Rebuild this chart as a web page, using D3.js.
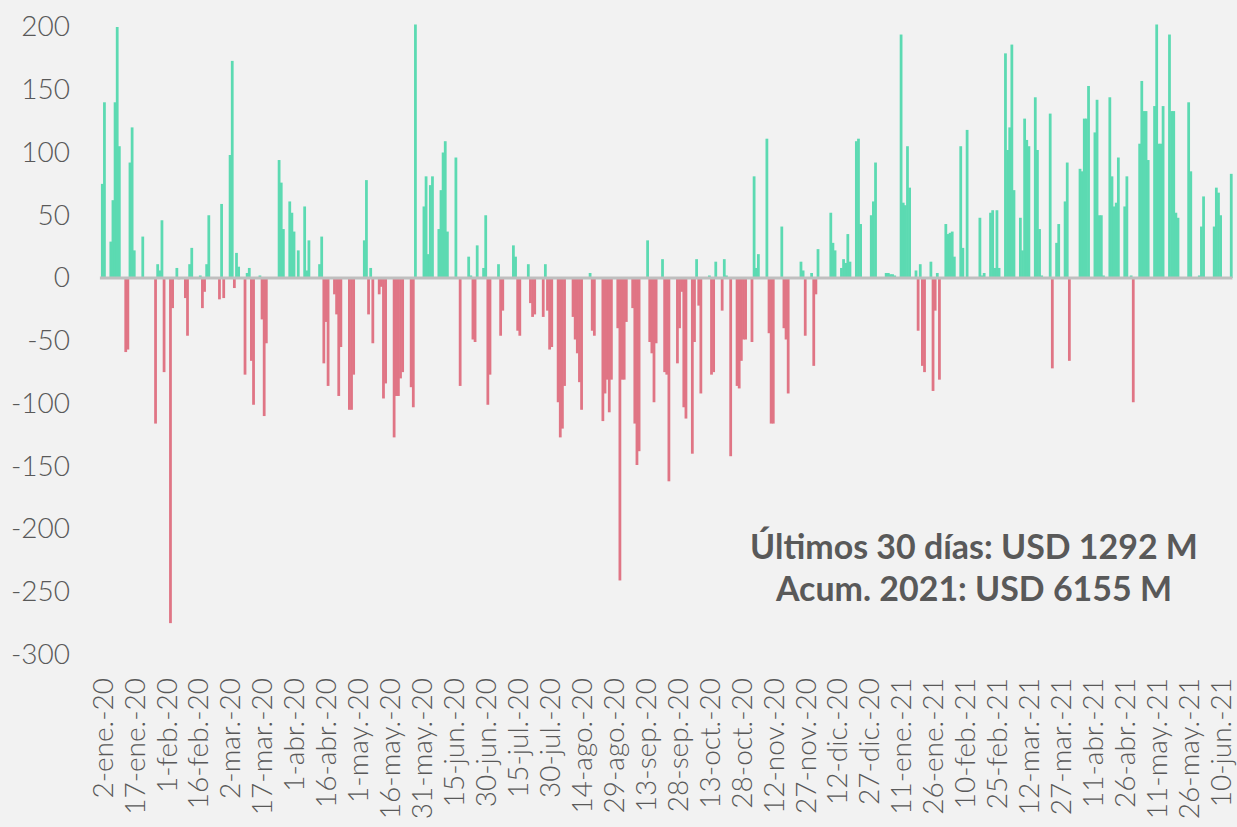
<!DOCTYPE html>
<html><head><meta charset="utf-8">
<script src="https://cdn.jsdelivr.net/npm/d3@7"></script>
<style>html,body{margin:0;padding:0;background:#f2f2f2;} svg{display:block}</style>
</head><body><svg id="chart" width="1237" height="827"></svg>
<script>
// ---------- data ----------
const startDate = "2020-01-02"; // first business day; values follow Mon-Fri calendar
const values2020 = [
  75, 140,
  29, 62, 140, 200, 105,
  -59, -57, 92, 120, 22,
  0, 33, 0, 0, 0,
  -116, 11, 6, 46, -75,
  -275, -24, 0, 8, -1,
  -16, -46, 11, 24, 0,
  2, -24, -11, 11, 50,
  0, 0, -17, 59, -16,
  98, 173, -8, 20, 9,
  -77, 4, 8, -66, -101,
  2, -33, -110, -52, 0,
  0, 0, 94, 76, 39,
  61, 52, 37, 0, 22,
  57, 6, 30, 0, 0,
  11, 33, -68, -35, -86,
  -13, -29, -94, -55, 0,
  -105, -105, -77, 0, 0,
  30, 78, -29, 8, -52,
  -13, -7, -96, -84, 0,
  -127, -94, -94, -80, -75,
  0, -87, -103, 202, 0,
  57, 81, 19, 74, 81,
  39, 70, 100, 109, 37,
  0, 96, 0, -86, 0,
  17, 2, -49, -51, 26,
  8, 50, -101, -77, 0,
  11, -46, -26, 0, 0,
  26, 17, -42, -46, 0,
  11, -20, -31, -29, 0,
  -31, 11, -26, -57, -55,
  -99, -127, -120, -86, 0,
  -31, -49, -60, -83, -105,
  0, 4, -42, -46, 0,
  -114, -92, -81, -107, -81,
  -40, -241, -81, -81, -35,
  -24, -116, -149, -138, 0,
  30, -51, -60, -99, -52,
  15, -75, -77, -162, 0,
  -68, -40, -11, -103, -112,
  -140, -51, 15, -22, -92,
  0, 2, -77, -75, 13,
  -26, 15, 2, 0, -142,
  -86, -88, -66, -49, -49,
  -51, 81, 8, 19, 0,
  111, -44, -116, -116, 0,
  41, -40, -49, -92, 0,
  0, 0, 13, 6, -46,
  4, -70, -13, 23, 0,
  0, 0, 52, 28, 22,
  8, 15, 12, 35, 13,
  109, 111, 43, 0, 0,
  50, 61, 92, 0
];
const values2021 = [
  0,
  4, 4, 3, 3, 2,
  194, 60, 58, 105, 72,
  6, -42, 11, -70, -75,
  13, -90, -26, 4, -81,
  43, 35, 36, 37, 17,
  105, 24, 0, 118, 0,
  0, 0, 48, 2, 4,
  52, 54, 8, 54, 8,
  179, 102, 120, 186, 70,
  48, 22, 127, 110, 105,
  144, 102, 39, 2, 0,
  131, -72, 0, 28, 43,
  61, 92, -66, 0, 0,
  87, 85, 127, 127, 153,
  116, 142, 50, 50, 2,
  144, 81, 57, 60, 96,
  57, 81, 0, 2, -99,
  107, 157, 133, 133, 94,
  137, 202, 107, 107, 137,
  194, 133, 133, 52, 48,
  0, 0, 140, 85, 0,
  2, 41, 65, 0, 0,
  41, 72, 68, 50, 0,
  0, 83
];
const yTicks = [200, 150, 100, 50, 0, -50, -100, -150, -200, -250, -300];
const xTickDates = [
  "2020-01-02","2020-01-17","2020-02-01","2020-02-16","2020-03-02","2020-03-17",
  "2020-04-01","2020-04-16","2020-05-01","2020-05-16","2020-05-31","2020-06-15",
  "2020-06-30","2020-07-15","2020-07-30","2020-08-14","2020-08-29","2020-09-13",
  "2020-09-28","2020-10-13","2020-10-28","2020-11-12","2020-11-27","2020-12-12",
  "2020-12-27","2021-01-11","2021-01-26","2021-02-10","2021-02-25","2021-03-12",
  "2021-03-27","2021-04-11","2021-04-26","2021-05-11","2021-05-26","2021-06-10"
];
const monthAbbr = ["ene","feb","mar","abr","may","jun","jul","ago","sep","oct","nov","dic"];
const noteLines = ["Últimos 30 días: USD 1292 M", "Acum. 2021: USD 6155 M"];

// ---------- build ----------
const parse = d3.utcParse("%Y-%m-%d");
const allValues = values2020.concat(values2021);
const data = [];
let cur = parse(startDate);
while (data.length < allValues.length) {
  const wd = cur.getUTCDay();
  if (wd !== 0 && wd !== 6) data.push({date: cur, value: allValues[data.length]});
  cur = d3.utcDay.offset(cur, 1);
}

const svg = d3.select("#chart");
const W = 1237, H = 827;
svg.append("rect").attr("width", W).attr("height", H).attr("fill", "#f2f2f2");

const x = d3.scaleUtc()
  .domain([parse("2020-01-02"), parse("2021-06-10")])
  .range([102.3, 1220.6]);
const dayW = x(parse("2020-01-03")) - x(parse("2020-01-02"));
const barW = dayW * 1.3;

const y = d3.scaleLinear().domain([-300, 200]).range([654.5, 27]);

// bars
svg.append("g").selectAll("rect")
  .data(data.filter(d => d.value !== 0))
  .join("rect")
  .attr("x", d => x(d.date) - barW / 2)
  .attr("width", barW)
  .attr("y", d => y(Math.max(0, d.value)))
  .attr("height", d => Math.abs(y(d.value) - y(0)))
  .attr("fill", d => d.value > 0 ? "#5cdab2" : "#e07585");

// zero line
const firstD = data[0].date, lastD = data[data.length - 1].date;
svg.append("line")
  .attr("x1", x(firstD) - 2.4).attr("x2", x(lastD) + 1.2)
  .attr("y1", y(0)).attr("y2", y(0))
  .attr("stroke", "#bfbfbf").attr("stroke-width", 3);

// y axis labels (hyphen-minus as in the original)
const yAxis = d3.axisLeft(y).tickValues(yTicks).tickFormat(d => String(d)).tickSize(0).tickPadding(0);
const gy = svg.append("g").attr("transform", "translate(70,0)").call(yAxis);
gy.select(".domain").remove();
gy.selectAll("text")
  .attr("font-family", "Lato, 'Open Sans', sans-serif")
  .attr("font-weight", 300)
  .attr("font-size", 28)
  .attr("fill", "#595959");

// x axis labels
const fmt = d => `${d.getUTCDate()}-${monthAbbr[d.getUTCMonth()]}.-${String(d.getUTCFullYear()).slice(2)}`;
const xAxis = d3.axisBottom(x).tickValues(xTickDates.map(parse)).tickFormat(fmt).tickSize(0).tickPadding(0);
const gx = svg.append("g").attr("transform", "translate(0,678)").call(xAxis);
gx.select(".domain").remove();
gx.selectAll("text")
  .attr("font-family", "Lato, 'Open Sans', sans-serif")
  .attr("font-weight", 300)
  .attr("font-size", 28)
  .attr("fill", "#595959")
  .attr("text-anchor", "end")
  .attr("transform", "rotate(-90)")
  .attr("x", 0).attr("y", 0).attr("dy", "0.35em");

// annotation
const note = svg.append("g").attr("font-family", "Lato, 'Open Sans', sans-serif")
  .attr("font-weight", 700).attr("fill", "#595959").attr("text-anchor", "middle");
const t1 = note.append("text").attr("x", 974).attr("y", 559).attr("font-size", 30).text(noteLines[0]);
const t2 = note.append("text").attr("x", 974).attr("y", 601).attr("font-size", 30).text(noteLines[1]);
const w1 = t1.node().getComputedTextLength();
const fs = 30 * 448 / w1;
t1.attr("font-size", fs); t2.attr("font-size", fs);
</script>
</body></html>
